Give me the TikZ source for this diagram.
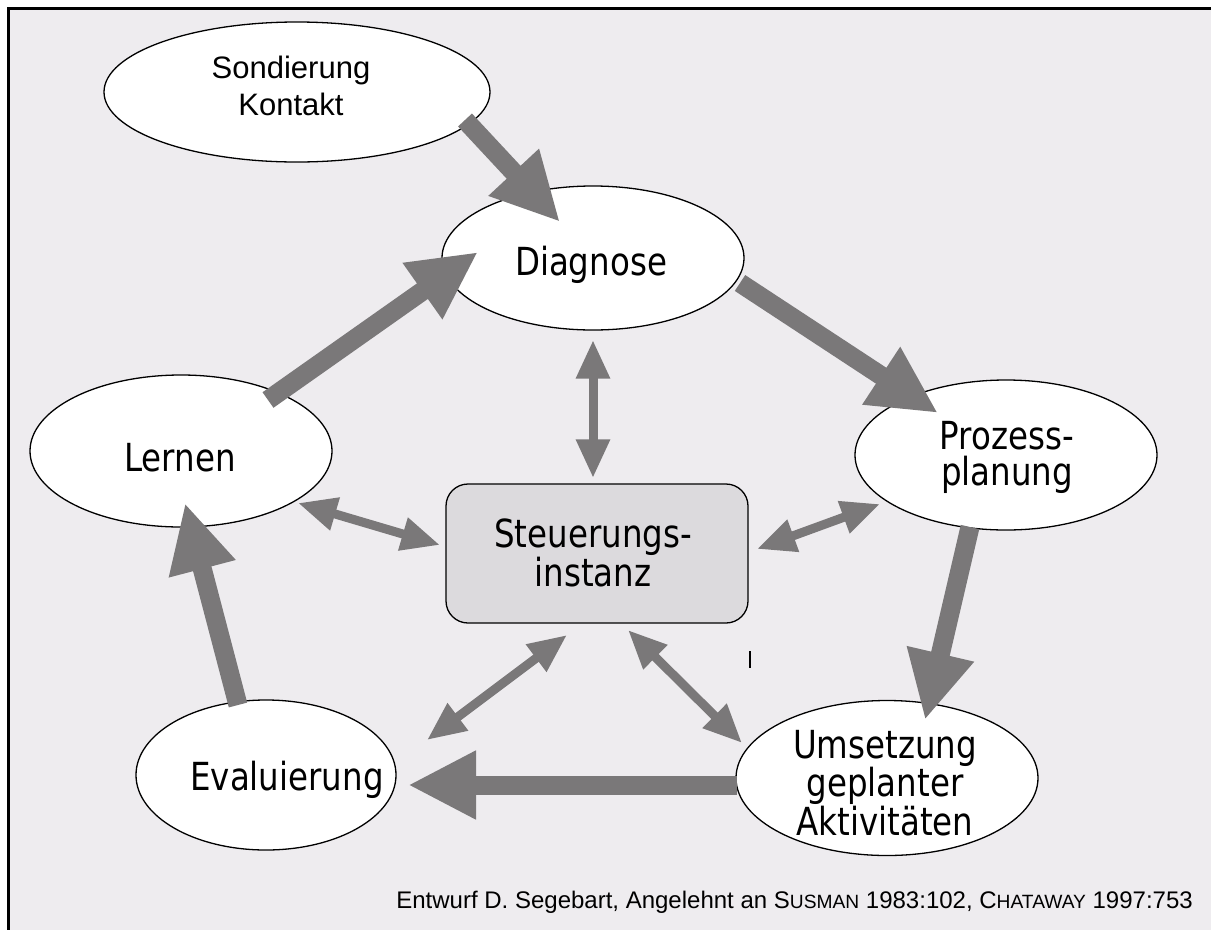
\documentclass[tikz,border=0pt]{standalone}
\usepackage{fontspec}
\usetikzlibrary{shapes.geometric,arrows.meta,calc}
\setmainfont{Liberation Sans}
\newfontfamily\labfont[FakeStretch=0.84]{DejaVu Sans}
\newfontfamily\arialfont{Liberation Sans}
\newlength\pxu
\setlength\pxu{0.75pt}
\definecolor{bgcol}{HTML}{EEECEF}
\definecolor{arrcol}{HTML}{7A7879}
\definecolor{boxcol}{HTML}{DCDADD}
% small caps imitation for author names
\newcommand\fakesc[2]{#1{\fontsize{14.4pt}{15pt}\selectfont #2}}
\tikzset{
  phase/.style={ellipse, draw=black, line width=0.975pt, fill=white, inner sep=0pt},
  lab/.style={font=\labfont\fontsize{29pt}{27pt}\selectfont, align=center, inner sep=0pt},
  flow/.style={draw=arrcol, line width=14.25pt,
    -{Triangle[length=51pt, width=48pt]}},
  link/.style={draw=arrcol, line width=6.75pt,
    {Triangle[length=29pt, width=24pt]}-{Triangle[length=29pt, width=24pt]}}
}
\begin{document}
\begin{tikzpicture}[x=0.75pt, y=-0.75pt]
\useasboundingbox (0,0) rectangle (1211,929);
% frame and background (running off the page on the right and at the bottom)
\fill[white] (-20,-20) rectangle (1240,960);
\fill[bgcol] (8,8) rectangle (1240,960);
\draw[line width=2.25pt] (8,960) -- (8,8) -- (1240,8);

% phases
\node[phase, minimum width=386\pxu, minimum height=140\pxu] (sond) at (297,92) {};
\node[phase, minimum width=302\pxu, minimum height=144\pxu] (diag) at (593,258) {};
\node[phase, minimum width=302\pxu, minimum height=152\pxu] (lern) at (181,451) {};
\node[phase, minimum width=302\pxu, minimum height=150\pxu] (proz) at (1006,455) {};
\node[phase, minimum width=260\pxu, minimum height=150\pxu] (eval) at (266,775) {};
\node[phase, minimum width=302\pxu, minimum height=155\pxu] (ums) at (887,778) {};
\node[draw=black, line width=0.975pt, fill=boxcol, rounded corners=16.5pt,
      minimum width=302\pxu, minimum height=139\pxu, inner sep=0pt] (steu) at (597,553.5) {};

% labels
\node[font=\arialfont\fontsize{23.25pt}{27.75pt}\selectfont, align=center, inner sep=0pt] (sondlab) at (291,86) {Sondierung\\Kontakt};
\node[lab] (diaglab) at (591,265) {Diagnose};
\node[lab] (lernlab) at (180,458) {Lernen};
\node[lab] (prozlab) at (1007,457) {Prozess-\\planung};
\node[lab] (steulab) at (593,553) {Steuerungs-\\instanz};
\node[lab] (evallab) at (287,780) {Evaluierung};
\node[lab] (umslab) at (885,783) {Umsetzung\\geplanter\\Aktivitäten};

% main cycle
\draw[flow] ($(sond)+(168,28)$) -- ($(diag)+(-33,-36)$);
\draw[flow] ($(diag)+(147,25)$) -- ($(proz)+(-68,-42)$);
\draw[flow] ($(proz)+(-36,72)$) -- ($(ums)+(38,-58)$);
\draw[flow] ($(ums)+(-150,7)$) -- ($(eval)+(142,10)$);
\draw[flow] ($(eval)+(-28,-70)$) -- ($(lern)+(4,52)$);
\draw[flow] ($(lern)+(87,-51)$) -- ($(diag)+(-115,-6)$);

% links to the steering body
\draw[link] ($(diag)+(0,82)$) -- ($(steu)+(-4,-75.5)$);
\draw[link] ($(lern)+(117,52)$) -- ($(steu)+(-157,-8.5)$);
\draw[link] ($(proz)+(-126,49)$) -- ($(steu)+(160,-4.5)$);
\draw[link] ($(eval)+(161,-35)$) -- ($(steu)+(-30,81.5)$);
\draw[link] ($(ums)+(-145,-35)$) -- ($(steu)+(31,76.5)$);

% stray tick
\coordinate (ticktop) at (750,651);
\draw[line width=1.1pt] (ticktop) -- ++(0,17);

% source line
\node[anchor=base east, inner sep=0pt, font=\arialfont\fontsize{18pt}{20pt}\selectfont] (src) at (1193,908)
  {Entwurf D. Segebart, Angelehnt an \fakesc{S}{USMAN} 1983:102, \fakesc{C}{HATAWAY} 1997:753};
\end{tikzpicture}
\end{document}
